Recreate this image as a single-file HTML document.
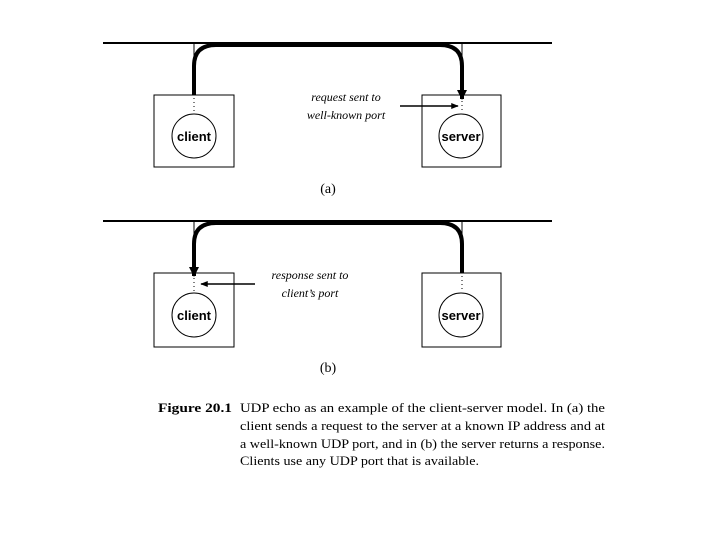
<!DOCTYPE html>
<html><head><style>body{margin:0;background:#fff}svg{display:block}</style></head><body>
<svg width="720" height="540" xmlns="http://www.w3.org/2000/svg">
<defs><marker id="a" viewBox="0 0 10 10" refX="9" refY="5" markerWidth="2.5" markerHeight="3" orient="auto"><path d="M0,0L10,5L0,10z" fill="#000"/></marker>
<marker id="s" viewBox="0 0 10 10" refX="9" refY="5" markerWidth="6" markerHeight="5" orient="auto"><path d="M0,1L10,5L0,9z" fill="#000"/></marker></defs>
<g stroke="#000" fill="none">
<!-- (a) -->
<line x1="103" y1="43" x2="552" y2="43" stroke-width="2"/>
<line x1="194" y1="43" x2="194" y2="95" stroke-width="1"/>
<line x1="462" y1="43" x2="462" y2="95" stroke-width="1"/>
<rect x="154" y="95" width="80" height="72" stroke-width="1"/>
<rect x="422" y="95" width="79" height="72" stroke-width="1"/>
<circle cx="194" cy="136" r="22" stroke-width="1"/>
<circle cx="461" cy="136" r="22" stroke-width="1"/>
<path d="M194,95 V66 Q194,45 216,45 H440 Q462,45 462,66 V99" stroke-width="4" marker-end="url(#a)"/>
<line x1="194" y1="98" x2="194" y2="113" stroke-width="1" stroke-dasharray="1,3"/>
<line x1="462" y1="101" x2="462" y2="113" stroke-width="1" stroke-dasharray="1,3"/>
<line x1="400" y1="106" x2="458" y2="106" stroke-width="1.5" marker-end="url(#s)"/>
<!-- (b) -->
<line x1="103" y1="221" x2="552" y2="221" stroke-width="2"/>
<line x1="194" y1="221" x2="194" y2="273" stroke-width="1"/>
<line x1="462" y1="221" x2="462" y2="273" stroke-width="1"/>
<rect x="154" y="273" width="80" height="74" stroke-width="1"/>
<rect x="422" y="273" width="79" height="74" stroke-width="1"/>
<circle cx="194" cy="315" r="22" stroke-width="1"/>
<circle cx="461" cy="315" r="22" stroke-width="1"/>
<path d="M462,273 V244 Q462,223 440,223 H216 Q194,223 194,244 V276" stroke-width="4" marker-end="url(#a)"/>
<line x1="194" y1="278" x2="194" y2="293" stroke-width="1" stroke-dasharray="1,3"/>
<line x1="462" y1="276" x2="462" y2="292" stroke-width="1" stroke-dasharray="1,3"/>
<line x1="255" y1="284" x2="201" y2="284" stroke-width="1.5" marker-end="url(#s)"/>
</g>
<g font-family="Liberation Sans, sans-serif" font-weight="bold" font-size="13" text-anchor="middle">
<text x="194" y="141">client</text><text x="461" y="141">server</text>
<text x="194" y="320">client</text><text x="461" y="320">server</text>
</g>
<g font-family="Liberation Serif, serif" font-style="italic" font-size="12" text-anchor="middle">
<text x="346" y="101">request sent to</text><text x="346" y="119">well-known port</text>
<text x="310" y="279">response sent to</text><text x="310" y="297">client’s port</text>
</g>
<g font-family="Liberation Serif, serif" font-size="14" text-anchor="middle">
<text x="328" y="193">(a)</text><text x="328" y="372">(b)</text>
</g>
<g font-family="Liberation Serif, serif" font-size="13">
<text x="158" y="412" font-weight="bold" textLength="74" lengthAdjust="spacingAndGlyphs">Figure 20.1</text>
<text x="240" y="412" textLength="365" lengthAdjust="spacingAndGlyphs">UDP echo as an example of the client-server model.  In (a) the</text>
<text x="240" y="430" textLength="365" lengthAdjust="spacingAndGlyphs">client sends a request to the server at a known IP address and at</text>
<text x="240" y="448" textLength="365" lengthAdjust="spacingAndGlyphs">a well-known UDP port, and in (b) the server returns a response.</text>
<text x="240" y="465" textLength="239" lengthAdjust="spacingAndGlyphs">Clients use any UDP port that is available.</text>
</g>
</svg>
</body></html>
